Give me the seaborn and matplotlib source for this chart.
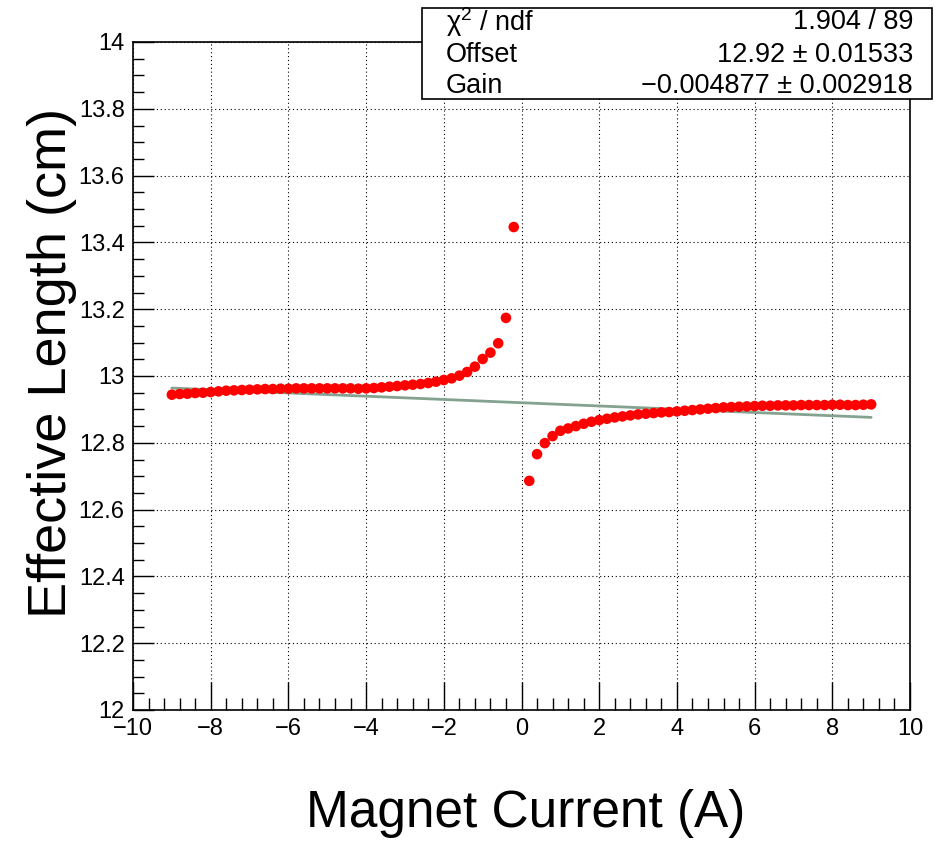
import numpy as np
import pandas as pd
import matplotlib
matplotlib.use("Agg")
import matplotlib.pyplot as plt
from matplotlib.patches import Rectangle
from matplotlib.ticker import MultipleLocator
import seaborn as sns

# ---- data ----
current_neg = [-9.0, -8.8, -8.6, -8.4, -8.2, -8.0, -7.8, -7.6, -7.4, -7.2,
               -7.0, -6.8, -6.6, -6.4, -6.2, -6.0, -5.8, -5.6, -5.4, -5.2,
               -5.0, -4.8, -4.6, -4.4, -4.2, -4.0, -3.8, -3.6, -3.4, -3.2,
               -3.0, -2.8, -2.6, -2.4, -2.2, -2.0, -1.8, -1.6, -1.4, -1.2,
               -1.0, -0.8, -0.6, -0.4, -0.2]
length_neg = [12.944, 12.946, 12.947, 12.949, 12.950, 12.952, 12.954, 12.956, 12.957, 12.958,
              12.959, 12.960, 12.961, 12.961, 12.962, 12.962, 12.963, 12.963, 12.963, 12.963,
              12.963, 12.963, 12.963, 12.963, 12.962, 12.963, 12.964, 12.966, 12.968, 12.970,
              12.972, 12.974, 12.976, 12.979, 12.983, 12.988, 12.993, 13.001, 13.012, 13.028,
              13.051, 13.070, 13.098, 13.174, 13.446]
current_pos = [0.2, 0.4, 0.6, 0.8, 1.0, 1.2, 1.4, 1.6, 1.8, 2.0,
               2.2, 2.4, 2.6, 2.8, 3.0, 3.2, 3.4, 3.6, 3.8, 4.0,
               4.2, 4.4, 4.6, 4.8, 5.0, 5.2, 5.4, 5.6, 5.8, 6.0,
               6.2, 6.4, 6.6, 6.8, 7.0, 7.2, 7.4, 7.6, 7.8, 8.0,
               8.2, 8.4, 8.6, 8.8, 9.0]
length_pos = [12.686, 12.766, 12.799, 12.820, 12.836, 12.843, 12.850, 12.857, 12.863, 12.868,
              12.872, 12.876, 12.879, 12.882, 12.885, 12.887, 12.889, 12.891, 12.892, 12.894,
              12.896, 12.898, 12.900, 12.902, 12.904, 12.906, 12.907, 12.908, 12.909, 12.910,
              12.911, 12.911, 12.912, 12.912, 12.912, 12.913, 12.913, 12.913, 12.913, 12.914,
              12.914, 12.913, 12.913, 12.914, 12.915]

# fit result shown in the stats box
fit_offset = 12.92
fit_gain = -0.004877
fit_range = [-9.0, 9.0]
stats_labels = ["\u03c7$^{2}$ / ndf", "Offset", "Gain"]
stats_values = ["1.904 / 89", "12.92 \u00b1 0.01533", "\u22120.004877 \u00b1 0.002918"]

df = pd.DataFrame({"current": current_neg + current_pos,
                   "length": length_neg + length_pos})
fit_df = pd.DataFrame({"current": fit_range})
fit_df["length"] = fit_offset + fit_gain * fit_df["current"]

# ---- style ----
sns.set_style("ticks")
plt.rcParams["font.family"] = ["Liberation Sans", "DejaVu Sans"]
plt.rcParams["mathtext.fontset"] = "custom"
plt.rcParams["mathtext.rm"] = "Liberation Sans"
plt.rcParams["mathtext.it"] = "Liberation Sans"
plt.rcParams["text.color"] = "black"
plt.rcParams["xtick.color"] = "black"
plt.rcParams["ytick.color"] = "black"
plt.rcParams["xtick.labelcolor"] = "black"
plt.rcParams["ytick.labelcolor"] = "black"

W, H = 935, 842
fig = plt.figure(figsize=(W / 100, H / 100), dpi=100)
fig.patch.set_facecolor("white")
L, R, T, B = 133, 910, 42, 710
ax = fig.add_axes([L / W, 1 - B / H, (R - L) / W, (B - T) / H])

sns.lineplot(data=fit_df, x="current", y="length", ax=ax, color="#84a290",
             linewidth=2.0, zorder=2)
sns.scatterplot(data=df, x="current", y="length", ax=ax, color="#ff0000",
                s=58, edgecolor="none", linewidth=0, zorder=3)

ax.set_xlim(-10, 10)
ax.set_ylim(12, 14)
ax.xaxis.set_major_locator(MultipleLocator(2))
ax.xaxis.set_minor_locator(MultipleLocator(0.4))
ax.yaxis.set_major_locator(MultipleLocator(0.2))
ax.yaxis.set_minor_locator(MultipleLocator(0.05))
yt = np.round(np.arange(12, 14.01, 0.2), 1)
ax.set_yticks(yt)
ax.set_yticklabels([("%g" % v) for v in yt])

ax.tick_params(axis="both", which="both", direction="in", top=False, right=False,
               labelsize=17, color="black", width=1.0, labelcolor="black")
ax.tick_params(axis="x", which="major", length=20, pad=6)
ax.tick_params(axis="x", which="minor", length=9)
ax.tick_params(axis="y", which="major", length=15, pad=6)
ax.tick_params(axis="y", which="minor", length=8)

ax.grid(True, which="major", color="black", linestyle=(0, (1, 2.5)), linewidth=0.8)
for sp in ax.spines.values():
    sp.set_visible(True)
    sp.set_color("black")
    sp.set_linewidth(1.2)

ax.set_xlabel("")
ax.set_ylabel("")
fig.text((308 + 743) / 2 / W, 1 - 813 / H, "Magnet Current (A)", fontsize=37,
         ha="center", va="center", color="black")
fig.text(52 / W, 1 - 363 / H, "Effective Length (cm)", fontsize=39,
         ha="center", va="center", rotation=90, color="black")

# stats box
bx0, bx1, by0, by1 = 422, 932, 8, 99
box = Rectangle((bx0 / W, 1 - by1 / H), (bx1 - bx0) / W, (by1 - by0) / H,
                transform=fig.transFigure, facecolor="white", edgecolor="black",
                linewidth=1.2, zorder=10)
fig.patches.append(box)
rows_y = [22, 55, 86]
for lab, val, yy in zip(stats_labels, stats_values, rows_y):
    fig.text(446 / W, 1 - yy / H, lab, fontsize=19.5, ha="left", va="center",
             zorder=11, color="black")
    fig.text(913 / W, 1 - yy / H, val, fontsize=19.5, ha="right", va="center",
             zorder=11, color="black")

fig.savefig("out.png", dpi=100, facecolor="white")
